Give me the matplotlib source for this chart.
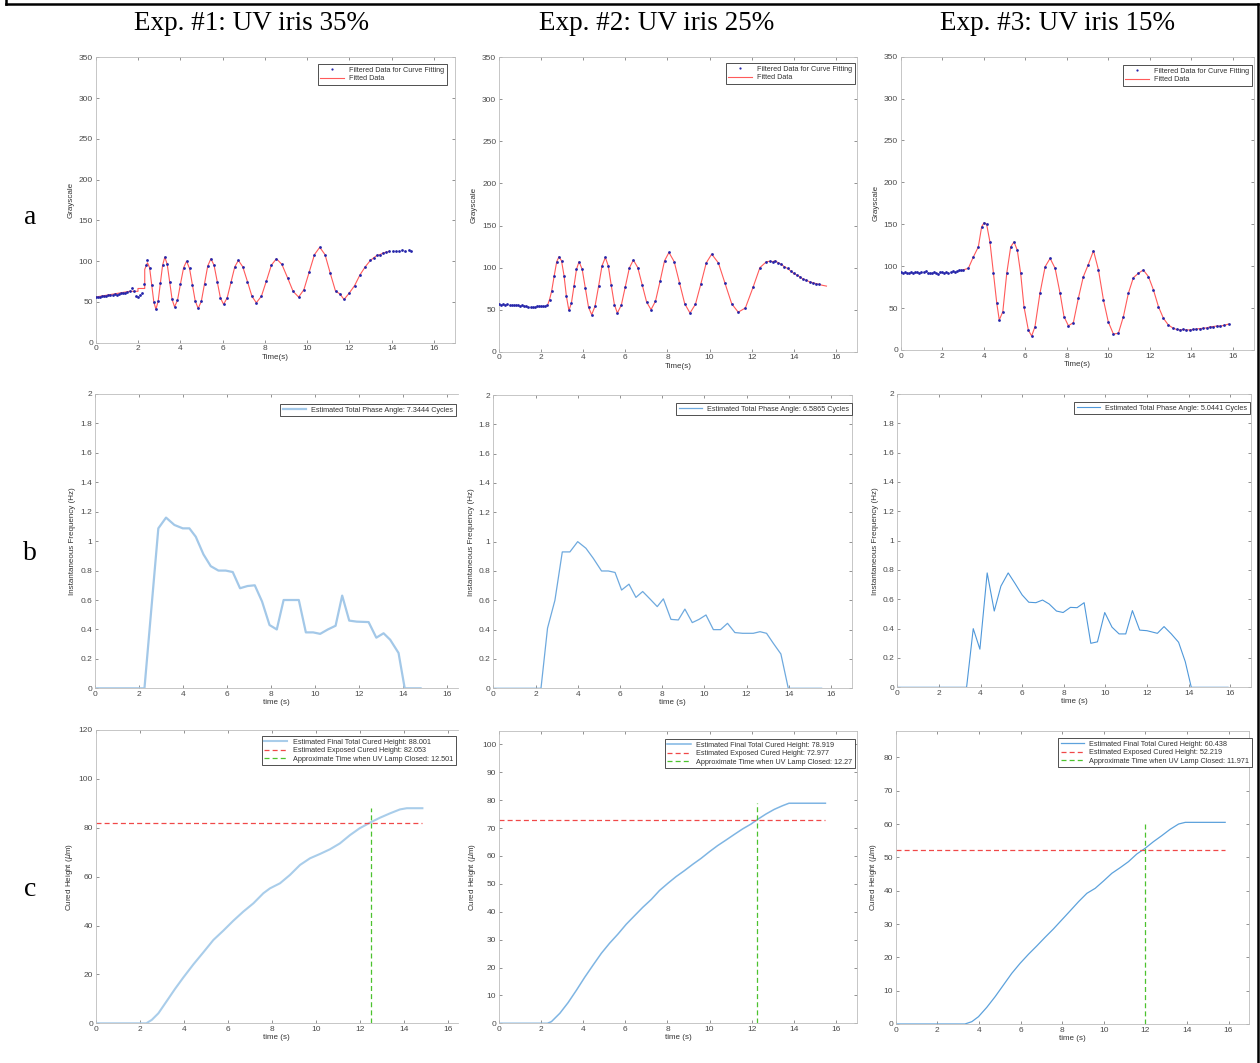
import matplotlib
matplotlib.use('Agg')  # pas d'affichage
import matplotlib.pyplot as plt
from matplotlib.lines import Line2D
from matplotlib.ticker import FormatStrFormatter
import numpy as np

# --- Colonnes / lignes ---
col_titles = ['Exp. #1: UV iris 35%', 'Exp. #2: UV iris 25%', 'Exp. #3: UV iris 15%']
row_labels = ['a', 'b', 'c']

# --- Ligne a : niveaux de gris (points filtres) ---
t_a1 = [0, 0.1, 0.2, 0.3, 0.4, 0.5, 0.6, 0.7, 0.8, 0.9, 1.0, 1.1, 1.2, 1.3, 1.4, 1.5, 1.6,
        1.7, 1.8, 1.9, 2.0, 2.1, 2.2, 2.3, 2.38, 2.45,
        2.55, 2.65, 2.75, 2.85, 2.955, 3.06, 3.165, 3.27, 3.385, 3.5, 3.615, 3.73, 3.87, 4.01, 4.16,
        4.3, 4.44, 4.575, 4.71, 4.85, 5.0, 5.15, 5.3, 5.45, 5.6, 5.75, 5.9, 6.05, 6.22, 6.4, 6.58,
        6.75, 6.96, 7.18, 7.39, 7.6, 7.84, 8.08, 8.31, 8.55, 8.81, 9.08, 9.34, 9.6, 9.85, 10.1, 10.35,
        10.6, 10.85, 11.1, 11.35, 11.55, 11.75, 12.0, 12.25, 12.5, 12.75,
        13.0, 13.15, 13.3, 13.45, 13.6, 13.75, 13.9, 14.05, 14.2, 14.35, 14.5, 14.65, 14.8, 14.9]
gray_a1 = [56, 56.5, 56, 57, 57, 57.5, 58, 58, 59, 59.5, 59, 60, 60.5, 61, 61, 62, 63,
           67, 64, 57, 56, 58, 61, 72, 95, 101,
           92, 71, 50, 41, 51, 73, 95, 105, 96, 74.5, 53, 44, 52, 72, 92,
           100, 91, 71, 51, 42, 51, 72.5, 94, 103, 95, 75, 55, 47, 55, 74, 93,
           101, 93, 75, 57, 49, 57, 76, 95, 103, 96, 79.5, 63, 56, 65, 86.5, 108,
           117, 108, 85, 63, 60, 53, 61, 70, 83, 93,
           101, 104, 107, 108, 110, 111, 112, 113, 112, 113, 114, 113, 114, 112]
# debut de la courbe ajustee (palier avant les oscillations)
fit_t_a1 = [0, 1.6, 2.0, 2.0, 2.32, 2.32, 2.45]
fit_v_a1 = [56, 63, 63, 66.5, 66.5, 90, 98]

t_a2 = [0, 0.1, 0.2, 0.3, 0.4, 0.5, 0.6, 0.7, 0.8, 0.9, 1.0, 1.1, 1.2, 1.3, 1.4, 1.5, 1.6, 1.7,
        1.8, 1.9, 2.0, 2.1, 2.2, 2.3, 2.4,
        2.5, 2.62, 2.74, 2.85, 2.97, 3.09, 3.2, 3.32, 3.44, 3.56, 3.68, 3.8, 3.95, 4.1, 4.25, 4.4,
        4.56, 4.73, 4.89, 5.05, 5.19, 5.33, 5.48, 5.62, 5.81, 6.0, 6.19, 6.38, 6.59, 6.8, 7.01, 7.22,
        7.43, 7.65, 7.86, 8.07, 8.32, 8.57, 8.82, 9.07, 9.33, 9.59, 9.84, 10.1, 10.42, 10.73, 11.05,
        11.36, 11.7, 12.07, 12.39, 12.7,
        12.85, 13.0, 13.1, 13.25, 13.4, 13.55, 13.7, 13.85, 14.0, 14.15, 14.3, 14.45, 14.6, 14.75,
        14.9, 15.05, 15.2, 15.35, 15.55]
gray_a2 = [56.5, 56, 57, 56, 56.5, 55.5, 56, 55, 55.5, 55, 54.5, 55, 54, 54.5, 53.5, 53, 53, 53.5,
           54, 54.5, 54, 54.5, 54, 55, 62,
           72, 90, 107, 113, 108, 90, 66, 49, 58, 78, 98, 107, 98, 75.5, 53, 44,
           54, 78, 102, 112, 102, 79, 56, 46, 55.5, 77.5, 99.5, 109, 100, 79.5, 59, 50,
           60, 84, 108, 118, 107, 82, 57, 46, 56.5, 81, 105.5, 116, 105.5, 81.5, 57,
           47, 52, 77, 100, 107,
           107.5, 107, 108, 106, 104, 101, 99, 96, 93, 91, 89, 86, 85, 83,
           82, 81, 80, 79, 78]

t_a3 = [0, 0.1, 0.2, 0.3, 0.4, 0.5, 0.6, 0.7, 0.8, 0.9, 1.0, 1.1, 1.2, 1.3, 1.4, 1.5, 1.6, 1.7,
        1.8, 1.9, 2.0, 2.1, 2.2, 2.3, 2.4, 2.5, 2.6, 2.7, 2.8, 2.9, 3.0,
        3.26, 3.5, 3.74, 3.9, 4.02, 4.14, 4.3, 4.47, 4.63, 4.75, 4.92, 5.11, 5.3, 5.46, 5.62, 5.78,
        5.94, 6.15, 6.31, 6.47, 6.71, 6.96, 7.2, 7.44, 7.68, 7.87, 8.08, 8.32, 8.56, 8.8, 9.04, 9.29,
        9.53, 9.77, 10.0, 10.25, 10.49, 10.73, 10.97, 11.21, 11.45, 11.69, 11.94, 12.18, 12.42,
        12.66, 12.9, 13.14,
        13.3, 13.46, 13.6, 13.75, 13.94, 14.1, 14.25, 14.4, 14.59, 14.75, 14.9, 15.05, 15.23, 15.4,
        15.6, 15.8]
gray_a3 = [92.5, 92, 93, 92, 91.5, 93, 92, 92.5, 93, 92, 92.5, 93, 94, 92, 91.5, 92, 93, 92,
           91, 92.5, 93, 92, 93.5, 92, 93, 94, 93.5, 94, 95, 95.5, 95.5,
           97.5, 111, 123, 147, 152, 150, 129, 91.5, 55.7, 35.8, 45.7, 91.5, 123, 129, 119, 91.5,
           51.7, 23.9, 16.7, 27.8, 67.6, 99.4, 109.4, 97.5, 67.6, 39.8, 29, 32.6, 61.7, 87.5, 102, 118.5,
           95.5, 59.7, 33.8, 19, 20, 39.8, 67.6, 86.3, 91.5, 95.5, 87.5, 71.6, 51.7,
           37.8, 29.8, 25.9,
           24.5, 23.9, 24.5, 24, 23.9, 24.5, 25, 25.5, 25.9, 26.5, 27.5, 28, 28.6, 28.5,
           29.5, 31]

# --- Ligne b : frequence instantanee (Hz) ---
t_b1 = [0, 2.26, 2.89, 3.24, 3.62, 4.0, 4.3, 4.59, 4.94, 5.27, 5.62, 5.95, 6.27, 6.6, 6.94, 7.27,
        7.6, 7.94, 8.27, 8.58, 8.92, 9.27, 9.59, 9.92, 10.24, 10.59, 10.94, 11.24, 11.56, 11.9,
        12.44, 12.79, 13.12, 13.42, 13.8, 14.08, 14.8]
f_b1 = [0, 0, 1.087, 1.16, 1.11, 1.087, 1.087, 1.03, 0.91, 0.83, 0.80, 0.80, 0.79, 0.68, 0.695, 0.70,
        0.59, 0.43, 0.40, 0.60, 0.60, 0.60, 0.38, 0.38, 0.37, 0.40, 0.425, 0.63, 0.46, 0.453,
        0.45, 0.344, 0.374, 0.33, 0.24, 0, 0]
t_b2 = [0, 2.26, 2.57, 2.92, 3.27, 3.63, 4.0, 4.39, 4.74, 5.13, 5.45, 5.77, 6.08, 6.43, 6.76, 7.08,
        7.42, 7.77, 8.06, 8.42, 8.77, 9.08, 9.43, 9.75, 10.08, 10.43, 10.77, 11.1, 11.45, 11.82,
        12.32, 12.64, 12.95, 13.27, 13.63, 13.98, 15.56]
f_b2 = [0, 0, 0.41, 0.60, 0.93, 0.93, 1.0, 0.955, 0.886, 0.80, 0.80, 0.79, 0.67, 0.71, 0.62, 0.66,
        0.61, 0.557, 0.61, 0.47, 0.466, 0.54, 0.448, 0.47, 0.50, 0.40, 0.40, 0.443, 0.38, 0.375,
        0.375, 0.386, 0.375, 0.307, 0.234, 0, 0]
t_b3 = [0, 3.33, 3.65, 3.97, 4.32, 4.66, 4.98, 5.33, 5.65, 6.0, 6.32, 6.66, 6.98, 7.3, 7.65, 7.97,
        8.32, 8.64, 8.98, 9.3, 9.62, 9.97, 10.32, 10.66, 10.98, 11.3, 11.65, 12.0, 12.5, 12.82,
        13.17, 13.52, 13.84, 14.13, 15.9]
f_b3 = [0, 0, 0.40, 0.26, 0.78, 0.52, 0.69, 0.78, 0.71, 0.63, 0.58, 0.577, 0.595, 0.568, 0.52, 0.51,
        0.545, 0.543, 0.577, 0.30, 0.31, 0.51, 0.41, 0.364, 0.364, 0.523, 0.39, 0.386, 0.368, 0.414,
        0.364, 0.307, 0.175, 0, 0]
phase_cycles = ['7.3444', '6.5865', '5.0441']

# --- Ligne c : hauteur polymerisee (um) ---
t_c1 = [0, 2.3, 2.55, 2.85, 3.23, 3.6, 3.98, 4.44, 4.89, 5.35, 5.8, 6.26, 6.71, 7.17, 7.62, 7.92,
        8.38, 8.83, 9.29, 9.74, 10.2, 10.65, 11.1, 11.56, 12.0, 12.47, 12.92, 13.38, 13.83, 14.14, 14.85]
h_c1 = [0, 0, 1.4, 4.1, 9.1, 14, 18.7, 24.1, 29, 34.1, 37.9, 42, 45.7, 49.1, 53.2, 55.2,
        57.3, 60.7, 64.8, 67.5, 69.3, 71.2, 73.6, 77, 79.8, 82.1, 84.1, 85.9, 87.5, 88.0, 88.0]
t_c2 = [0, 2.3, 2.49, 2.89, 3.28, 3.68, 4.07, 4.47, 4.86, 5.25, 5.65, 6.04, 6.44, 6.83, 7.23, 7.62,
        8.02, 8.41, 8.8, 9.2, 9.59, 9.99, 10.38, 10.78, 11.17, 11.57, 11.96, 12.28, 12.67, 13.07,
        13.46, 13.77, 15.5]
h_c2 = [0, 0, 0.6, 3.6, 7.4, 11.9, 16.5, 20.9, 25.1, 28.7, 32, 35.5, 38.6, 41.6, 44.4, 47.6,
        50.2, 52.6, 54.7, 57, 59.1, 61.5, 63.7, 65.7, 67.7, 69.7, 71.4, 73.1, 75, 76.7,
        78, 78.9, 78.9]
t_c3 = [0, 3.33, 3.66, 3.98, 4.38, 4.78, 5.18, 5.58, 5.98, 6.38, 6.78, 7.18, 7.58, 7.98, 8.38, 8.79,
        9.19, 9.59, 9.99, 10.39, 10.79, 11.19, 11.59, 11.99, 12.39, 12.79, 13.19, 13.6, 13.92, 15.84]
h_c3 = [0, 0, 0.7, 2.2, 5, 8.2, 11.7, 15.2, 18.2, 20.9, 23.4, 26, 28.5, 31.2, 33.9, 36.7,
        39.2, 40.7, 42.9, 45.2, 46.9, 48.7, 51, 52.7, 54.7, 56.5, 58.4, 60, 60.5, 60.5]
final_height = [88.001, 78.919, 60.438]
exposed_height = [82.053, 72.977, 52.219]
lamp_closed = [12.501, 12.27, 11.971]
lamp_closed_txt = ['12.501', '12.27', '11.971']

# --- Figure ---
W, H = 1260, 1063
plt.rcParams['font.family'] = ['Liberation Sans', 'DejaVu Sans']
fig = plt.figure(figsize=(W / 100, H / 100), dpi=100)

TICK_COL = '#4a4a4a'
SPINE_COL = '#bdbdbd'
DOT_COL = '#2525aa'
FIT_COL = '#ff5a5a'


def add_panel(left, top, right, bottom):
    # position en pixels -> fraction de figure
    return fig.add_axes([left / W, 1 - bottom / H, (right - left) / W, (bottom - top) / H])


def style(ax, xlim, ylim, yticks, right=True, fmt=None):
    ax.set_xlim(*xlim)
    ax.set_ylim(*ylim)
    ax.set_xticks(range(0, 17, 2))
    ax.set_yticks(yticks)
    if fmt:
        ax.yaxis.set_major_formatter(FormatStrFormatter(fmt))
    ax.tick_params(direction='in', length=2.5, width=0.5, color='#666666', labelcolor=TICK_COL,
                   labelsize=6, pad=2, top=True, right=right)
    for sp in ax.spines.values():
        sp.set_color(SPINE_COL)
        sp.set_linewidth(0.6)
    if not right:
        ax.spines['right'].set_visible(False)


def legend(ax, handles, labels, x_right, y_top):
    leg = ax.legend(handles, labels, loc='upper right', bbox_to_anchor=(x_right / W, 1 - y_top / H),
                    bbox_transform=fig.transFigure, borderaxespad=0, fontsize=5.2, frameon=True,
                    fancybox=False, framealpha=1, handlelength=3.2, handletextpad=0.8,
                    borderpad=0.35, labelspacing=0.2)
    leg.get_frame().set_edgecolor('#333333')
    leg.get_frame().set_linewidth(0.6)
    for txt in leg.get_texts():
        txt.set_color('#333333')
    return leg


# ligne a
panels_a = [
    (95.7, 57.3, 455.0, 342.7, t_a1, gray_a1, 447, 64),
    (499.0, 57.3, 857.0, 351.7, t_a2, gray_a2, 855, 63),
    (900.7, 56.7, 1253.5, 350.0, t_a3, gray_a3, 1252, 65),
]
for i, (l, t, r, b, tt, vv, lx, ly) in enumerate(panels_a):
    ax = add_panel(l, t, r, b)
    tt = np.array(tt)
    vv = np.array(vv)
    if i == 0:
        m = (tt >= 2.55) & (tt <= 14.0)
        ft = np.concatenate([fit_t_a1, tt[m]])
        fv = np.concatenate([fit_v_a1, vv[m]])
        dm = np.ones_like(tt, dtype=bool)
    elif i == 1:
        m = tt >= 2.3
        ft, fv = tt[m], vv[m]
        dm = tt <= 15.2
    else:
        m = tt >= 3.0
        ft, fv = tt[m], vv[m]
        dm = np.ones_like(tt, dtype=bool)
    ax.plot(ft, fv, '-', color=FIT_COL, lw=0.8, zorder=2)
    ax.plot(tt[dm], vv[dm], 'o', color=DOT_COL, ms=2.0, mew=0, zorder=3)
    style(ax, (0, 17), (0, 350), range(0, 351, 50))
    ax.set_ylabel('Grayscale', fontsize=5.8, color='#333333', labelpad=3)
    ax.set_xlabel('Time(s)', fontsize=5.8, color='#333333', labelpad=1)
    h1 = Line2D([], [], marker='o', ls='none', color=DOT_COL, ms=1.6, mew=0)
    h2 = Line2D([], [], color=FIT_COL, lw=0.8)
    legend(ax, [h1, h2], ['Filtered Data for Curve Fitting', 'Fitted Data'], lx, ly)

# ligne b
panels_b = [
    (94.7, 394.0, 458.0, 688.3, (0, 16.5), False, t_b1, f_b1, '#a3c8e8', 1.6, 456, 404),
    (493.3, 395.0, 852.0, 688.3, (0, 17), True, t_b2, f_b2, '#6ea9de', 0.9, 852, 403),
    (897.3, 394.0, 1251.0, 687.3, (0, 17), True, t_b3, f_b3, '#4f98da', 0.8, 1250, 402),
]
for i, (l, t, r, b, xl, rsp, tt, ff, col, lw, lx, ly) in enumerate(panels_b):
    ax = add_panel(l, t, r, b)
    line, = ax.plot(tt, ff, color=col, lw=lw)
    style(ax, xl, (0, 2), np.arange(0, 2.01, 0.2), right=rsp, fmt='%g')
    ax.set_ylabel('Instantaneous Frequency (Hz)', fontsize=5.8, color='#333333', labelpad=3)
    ax.set_xlabel('time (s)', fontsize=5.8, color='#333333', labelpad=1)
    legend(ax, [line], ['Estimated Total Phase Angle: %s Cycles' % phase_cycles[i]], lx, ly)

# ligne c
panels_c = [
    (95.7, 730.0, 458.0, 1023.3, (0, 16.47), False, (0, 120), range(0, 121, 20), t_c1, h_c1,
     '#a9cdea', 1.5, 456, 736),
    (499.0, 731.0, 857.0, 1023.3, (0, 17), True, (0, 104.8), range(0, 101, 10), t_c2, h_c2,
     '#7fb5e3', 1.1, 855, 739),
    (895.7, 730.7, 1249.3, 1024.0, (0, 17), True, (0, 88), range(0, 81, 10), t_c3, h_c3,
     '#5da2dc', 0.9, 1252, 738),
]
for i, (l, t, r, b, xl, rsp, yl, yt, tt, hh, col, lw, lx, ly) in enumerate(panels_c):
    ax = add_panel(l, t, r, b)
    l1, = ax.plot(tt, hh, color=col, lw=lw)
    l2, = ax.plot([0, tt[-1]], [exposed_height[i], exposed_height[i]], '--', color='#f04848',
                  lw=0.9, dashes=(4, 2.5))
    l3, = ax.plot([lamp_closed[i], lamp_closed[i]], [0, final_height[i]], '--', color='#4cc22e',
                  lw=0.9, dashes=(4, 2.5))
    style(ax, xl, yl, yt, right=rsp)
    ax.set_ylabel(r'Cured Height ($\mu$m)', fontsize=5.8, color='#333333', labelpad=3)
    ax.set_xlabel('time (s)', fontsize=5.8, color='#333333', labelpad=1)
    legend(ax, [l1, l2, l3],
           ['Estimated Final Total Cured Height: %.3f' % final_height[i],
            'Estimated Exposed Cured Height: %.3f' % exposed_height[i],
            'Approximate Time when UV Lamp Closed: %s' % lamp_closed_txt[i]], lx, ly)

# titres de colonnes et lettres de lignes
for x, txt in zip([252, 657, 1058], col_titles):
    fig.text(x / W, 1 - 24 / H, txt, ha='center', va='center', family='Liberation Serif',
             fontsize=19.5, color='black')
for y, txt in zip([218, 553, 890], row_labels):
    fig.text(30 / W, 1 - y / H, txt, ha='center', va='center', family='Liberation Serif',
             fontsize=20, color='black')

# cadre noir autour de la figure
for xs, ys in [([6, 6], [0, 4]), ([6, 1258], [4, 4]), ([1258, 1258], [4, 1063])]:
    fig.add_artist(Line2D([x / W for x in xs], [1 - y / H for y in ys], color='black', lw=1.8,
                          transform=fig.transFigure))

fig.savefig('out.png', dpi=100)
plt.close(fig)
